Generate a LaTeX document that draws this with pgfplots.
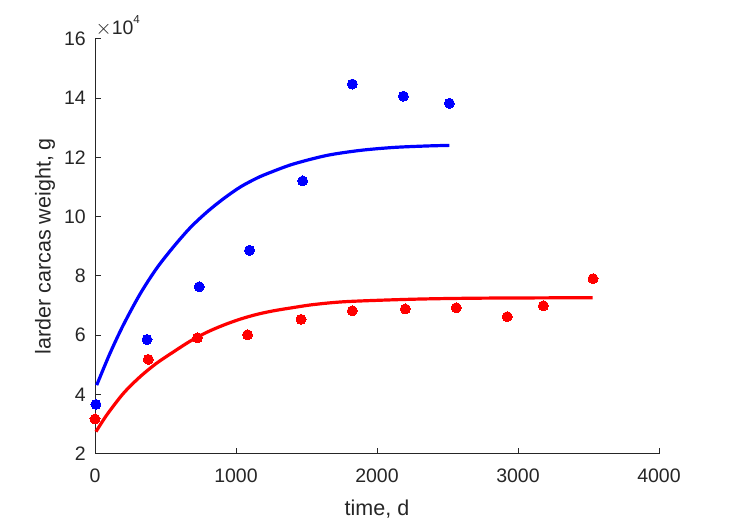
\documentclass[border=0pt]{standalone}
\usepackage{pgfplots}
\pgfplotsset{compat=1.18}
\usepackage{fontspec}
\setmainfont{Liberation Sans}
\usetikzlibrary{calc}
\definecolor{axgray}{RGB}{38,38,38}
\definecolor{mblue}{RGB}{0,0,255}
\definecolor{mred}{RGB}{255,0,0}
\begin{document}
\begin{tikzpicture}
\path[use as bounding box] (0,0) rectangle (729bp,521bp);
\begin{axis}[
  at={(95bp,67.4bp)}, anchor=south west,
  scale only axis, width=564bp, height=414.9bp,
  xmin=0, xmax=4000, ymin=20000, ymax=160000,
  axis x line=bottom, axis y line=left,
  axis line style={-, draw=axgray, line width=0.6bp},
  xtick={0,1000,2000,3000,4000}, xticklabels={0,1000,2000,3000,4000},
  ytick={20000,40000,60000,80000,100000,120000,140000,160000},
  yticklabels={2,4,6,8,10,12,14,16},
  scaled x ticks=false, scaled y ticks=false,
  tick align=inside, major tick length=6bp,
  tick style={draw=axgray, line width=0.6bp},
  xticklabel style={font=\fontsize{19.5bp}{20bp}\selectfont, text=axgray, inner sep=0pt, anchor=north, yshift=-15.2bp},
  yticklabel style={font=\fontsize{19.5bp}{20bp}\selectfont, text=axgray, inner sep=0pt, anchor=east, xshift=-9bp},
  xlabel={time, d},
  xlabel style={at={(rel axis cs:0.5,0)}, anchor=base, yshift=-61.4bp, font=\fontsize{21.5bp}{22bp}\selectfont, text=axgray, inner sep=0pt},
  ylabel={larder carcas weight, g},
  ylabel style={at={($(rel axis cs:0,0.5)+(-44.5bp,0)$)}, anchor=base, font=\fontsize{21.5bp}{22bp}\selectfont, text=axgray, inner sep=0pt},
  clip=false,
]
% fitted curves
\addplot[mblue, line width=3.2bp, smooth] coordinates {
(12,43100) (106,53800) (201,63400) (319,73800) (437,82500) (559,89900)
(677,96300) (796,101600) (914,106100) (1032,110000) (1150,113000)
(1245,114900) (1406,117700) (1643,120600) (1879,122300) (2116,123300)
(2352,123800) (2513,124000)};
\addplot[mred, line width=3.2bp, smooth] coordinates {
(7,27400) (83,33000) (201,40300) (319,45900) (437,50500) (559,54400)
(677,58000) (796,61000) (914,63400) (1032,65400) (1150,67000)
(1268,68200) (1383,69100) (1552,70300) (1789,71300) (2261,72100)
(2734,72450) (3530,72600)};
% data points
\addplot[only marks, mark=*, mark size=5bp, mblue, mark options={fill=mblue, draw=mblue, line width=0pt}] coordinates {
(7,36600) (369,58500) (739,76300) (1096,88600) (1473,112000)
(1825,144700) (2187,140600) (2513,138200)};
\addplot[only marks, mark=*, mark size=5bp, mred, mark options={fill=mred, draw=mred, line width=0pt}] coordinates {
(0,31700) (378,51800) (727,59100) (1082,60100) (1461,65300)
(1825,68200) (2201,68800) (2562,69200) (2924,66200) (3180,69900) (3532,79000)};
\node[anchor=base west, inner sep=0pt, xshift=0.5bp, yshift=4.2bp, font=\fontsize{19.5bp}{20bp}\selectfont, text=axgray] at (rel axis cs:0,1) {$\times$10\raisebox{11bp}{\fontsize{11.6bp}{12bp}\selectfont 4}};
\end{axis}
\end{tikzpicture}
\end{document}
